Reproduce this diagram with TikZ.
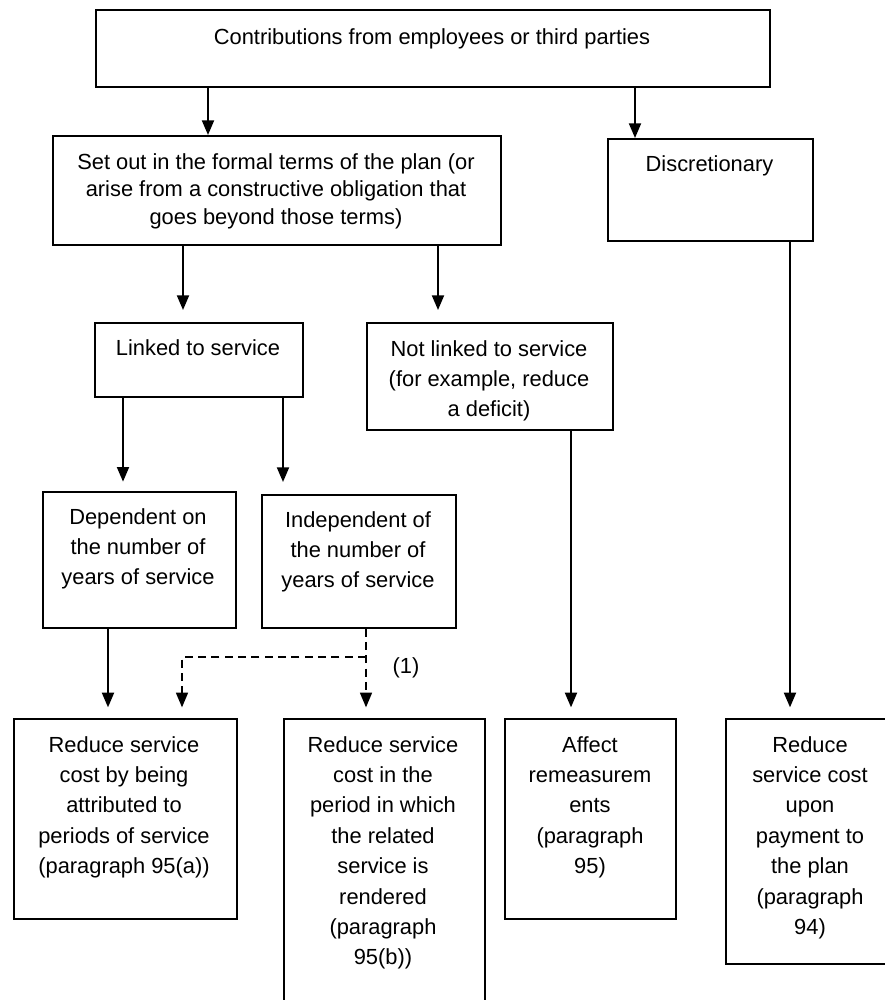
\documentclass[tikz,border=0pt]{standalone}
\usepackage{fontspec}
\setmainfont{Liberation Sans}
\usetikzlibrary{arrows.meta}

\tikzset{every picture/.style={line width=0.75pt}}
\tikzset{
  box/.style={draw, line width=1.2pt, rectangle, inner sep=0pt, anchor=north west},
  txt/.style={align=center, inner sep=0pt, anchor=base, font=\fontsize{16.4}{22.8}\selectfont},
  arr/.style={line width=1.4pt, -{Triangle[length=11pt,width=9pt]}},
  dasharr/.style={arr, line width=1.1pt, dash pattern=on 6pt off 4pt},
}

\begin{document}
\begin{tikzpicture}[x=0.75pt,y=0.75pt,yscale=-1,xscale=1]
	\useasboundingbox (0,0) rectangle (885,1000);

	%Shape: Rectangle [top]
	\node[box, minimum width=505.5pt, minimum height=57.75pt] (contrib) at (95,9) {};
	%Shape: Rectangle [second row]
	\node[box, minimum width=336pt, minimum height=81.75pt] (formal) at (52,135) {};
	\node[box, minimum width=153.75pt, minimum height=76.5pt] (discr) at (607,138) {};
	%Shape: Rectangle [third row]
	\node[box, minimum width=156pt, minimum height=55.5pt] (linked) at (94,322) {};
	\node[box, minimum width=184.5pt, minimum height=80.25pt] (notlinked) at (366,322) {};
	%Shape: Rectangle [fourth row]
	\node[box, minimum width=144.75pt, minimum height=102pt] (dep) at (42,491) {};
	\node[box, minimum width=145.5pt, minimum height=99.75pt] (indep) at (261,494) {};
	%Shape: Rectangle [bottom row]
	\node[box, minimum width=167.25pt, minimum height=150pt] (periods) at (13,718) {};
	\node[box, minimum width=150.75pt, minimum height=219pt] (rendered) at (283,718) {};
	\node[box, minimum width=128.25pt, minimum height=150pt] (remeas) at (504,718) {};
	\node[box, minimum width=127.5pt, minimum height=183.75pt] (payment) at (725,718) {};

	% Text Node (placed by the baseline of its last line)
	\node[txt] (t-contrib) at (432,44) {Contributions from employees or third parties};
	% Text Node
	\node[txt, font=\fontsize{16.4}{20.6}\selectfont] (t-formal) at (276,224) {Set out in the formal terms of the plan (or\\arise from a constructive obligation that\\goes beyond those terms)};
	% Text Node
	\node[txt] (t-discr) at (709.5,171) {Discretionary};
	% Text Node
	\node[txt] (t-linked) at (198,355) {Linked to service};
	% Text Node
	\node[txt] (t-notlinked) at (489,416.8) {Not linked to service\\(for example, reduce\\a deficit)};
	% Text Node
	\node[txt] (t-dep) at (138,584.8) {Dependent on\\the number of\\years of service};
	% Text Node
	\node[txt] (t-indep) at (358,587.8) {Independent of\\the number of\\years of service};
	% Text Node
	\node[txt] (t-periods) at (124,873.6) {Reduce service\\cost by being\\attributed to\\periods of service\\(paragraph 95(a))};
	% Text Node
	\node[txt] (t-rendered) at (383,964.8) {Reduce service\\cost in the\\period in which\\the related\\service is\\rendered\\(paragraph\\95(b))};
	% Text Node
	\node[txt] (t-remeas) at (590,873.6) {Affect\\remeasurem\\ents\\(paragraph\\95)};
	% Text Node
	\node[txt] (t-payment) at (810,934.4) {Reduce\\service cost\\upon\\payment to\\the plan\\(paragraph\\94)};
	% Text Node
	\node[txt] (note) at (406,673) {(1)};

	%Straight Lines [arrows]
	\draw[arr] (contrib.south -| 208,0) -- (formal.north -| 208,0);
	\draw[arr] (contrib.south -| 635,0) -- (discr.north -| 635,0);
	\draw[arr, shorten >=9pt] (formal.south -| 183,0) -- (linked.north -| 183,0);
	\draw[arr, shorten >=9pt] (formal.south -| 438,0) -- (notlinked.north -| 438,0);
	\draw[arr, shorten >=7pt] (linked.south -| 123,0) -- (dep.north -| 123,0);
	\draw[arr, shorten >=9pt] (linked.south -| 283,0) -- (indep.north -| 283,0);
	\draw[arr, shorten >=8pt] (dep.south -| 108,0) -- (periods.north -| 108,0);
	\draw[arr, shorten >=8pt] (notlinked.south -| 571,0) -- (remeas.north -| 571,0);
	\draw[arr, shorten >=8pt] (discr.south -| 790,0) -- (payment.north -| 790,0);

	%Dashed Lines [arrows]
	\coordinate (split) at (366,657);
	\draw[dasharr, shorten >=8pt] (indep.south -| 366,0) -- (rendered.north -| 366,0);
	\draw[dasharr, shorten >=8pt] (split) -| (periods.north -| 182,0);

\end{tikzpicture}
\end{document}
